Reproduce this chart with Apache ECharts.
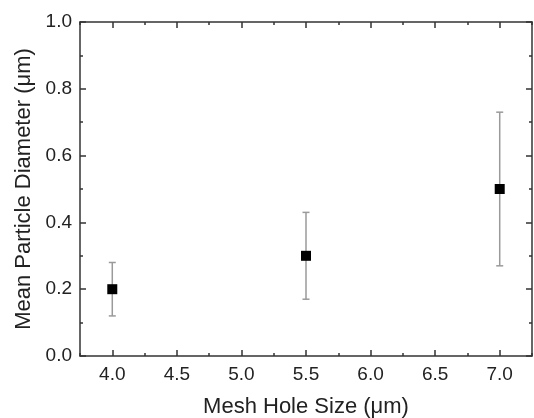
<!DOCTYPE html>
<html>
<head>
<meta charset="utf-8">
<script src="https://cdn.jsdelivr.net/npm/echarts@6/dist/echarts.min.js"></script>
<style>
  html, body { margin: 0; padding: 0; background: #fff; }
  #chart { width: 534px; height: 418px; }
</style>
</head>
<body>
<div id="chart"></div>
<script>
// Mesh hole size vs. mean particle diameter, with min/max error bars
const meshSize = [4.0, 5.5, 7.0];
const meanDiameter = [0.20, 0.30, 0.50];
const errLow = [0.12, 0.17, 0.27];
const errHigh = [0.28, 0.43, 0.73];

const xMajorTicks = [4.0, 4.5, 5.0, 5.5, 6.0, 6.5, 7.0];
const yTicks = [0.0, 0.2, 0.4, 0.6, 0.8, 1.0];

const FONT = 'Liberation Sans, Arial, sans-serif';
const AXIS_COLOR = '#333';
const TEXT_COLOR = '#222';

const chart = echarts.init(document.getElementById('chart'));

const xRange = { min: 3.75, max: 7.25 };

function xAxisDef(position, withLabels, major) {
  return {
    type: 'value',
    position: position,
    min: xRange.min,
    max: xRange.max,
    interval: 0.25,
    name: withLabels ? 'Mesh Hole Size (μm)' : '',
    nameLocation: 'middle',
    nameGap: 40,
    nameTextStyle: { fontFamily: FONT, fontSize: 22, color: TEXT_COLOR },
    axisLine: { show: !major, onZero: false, lineStyle: { color: AXIS_COLOR, width: 1.5 } },
    axisTick: major
      ? { show: true, inside: true, length: 6, customValues: xMajorTicks, lineStyle: { color: AXIS_COLOR, width: 1.5 } }
      : { show: true, inside: true, length: 3, lineStyle: { color: AXIS_COLOR, width: 1.5 } },
    axisLabel: withLabels
      ? { show: true, customValues: xMajorTicks, margin: 9, fontFamily: FONT, fontSize: 19, color: TEXT_COLOR,
          formatter: v => v.toFixed(1) }
      : { show: false },
    splitLine: { show: false }
  };
}

function yAxisDef(position, withLabels) {
  return {
    type: 'value',
    position: position,
    min: 0,
    max: 1,
    interval: 0.2,
    name: withLabels ? 'Mean Particle Diameter (μm)' : '',
    nameLocation: 'middle',
    nameGap: 45,
    nameTextStyle: { fontFamily: FONT, fontSize: 22, color: TEXT_COLOR },
    axisLine: { show: true, onZero: false, lineStyle: { color: AXIS_COLOR, width: 1.5 } },
    axisTick: { show: true, inside: true, length: 6, lineStyle: { color: AXIS_COLOR, width: 1.5 } },
    minorTick: { show: true, splitNumber: 2, length: 3, lineStyle: { color: AXIS_COLOR, width: 1.5 } },
    axisLabel: withLabels
      ? { show: true, customValues: yTicks, margin: 8, fontFamily: FONT, fontSize: 19, color: TEXT_COLOR,
          formatter: v => v.toFixed(1) }
      : { show: false },
    splitLine: { show: false },
    minorSplitLine: { show: false }
  };
}

const points = meshSize.map((x, i) => [x, meanDiameter[i]]);
const bars = meshSize.map((x, i) => [x, errLow[i], errHigh[i]]);

chart.setOption({
  animation: false,
  backgroundColor: '#fff',
  grid: { left: 80, right: 2, top: 22, bottom: 62, containLabel: false, outerBoundsMode: 'none' },
  xAxis: [
    xAxisDef('bottom', true, false),
    xAxisDef('bottom', false, true),
    xAxisDef('top', false, false),
    xAxisDef('top', false, true)
  ],
  yAxis: [
    yAxisDef('left', true),
    yAxisDef('right', false)
  ],
  series: [
    {
      type: 'custom',
      xAxisIndex: 0,
      yAxisIndex: 0,
      data: bars,
      z: 2,
      renderItem: function (params, api) {
        const x = api.value(0);
        const lo = api.coord([x, api.value(1)]);
        const hi = api.coord([x, api.value(2)]);
        const cap = 3.5;
        const style = { stroke: '#9a9a9a', lineWidth: 1.5 };
        return {
          type: 'group',
          children: [
            { type: 'line', shape: { x1: lo[0], y1: lo[1], x2: hi[0], y2: hi[1] }, style: style },
            { type: 'line', shape: { x1: lo[0] - cap, y1: lo[1], x2: lo[0] + cap, y2: lo[1] }, style: style },
            { type: 'line', shape: { x1: hi[0] - cap, y1: hi[1], x2: hi[0] + cap, y2: hi[1] }, style: style }
          ]
        };
      }
    },
    {
      type: 'scatter',
      xAxisIndex: 0,
      yAxisIndex: 0,
      data: points,
      symbol: 'rect',
      symbolSize: 10,
      itemStyle: { color: '#000', opacity: 1 },
      z: 3
    }
  ]
});
</script>
</body>
</html>
